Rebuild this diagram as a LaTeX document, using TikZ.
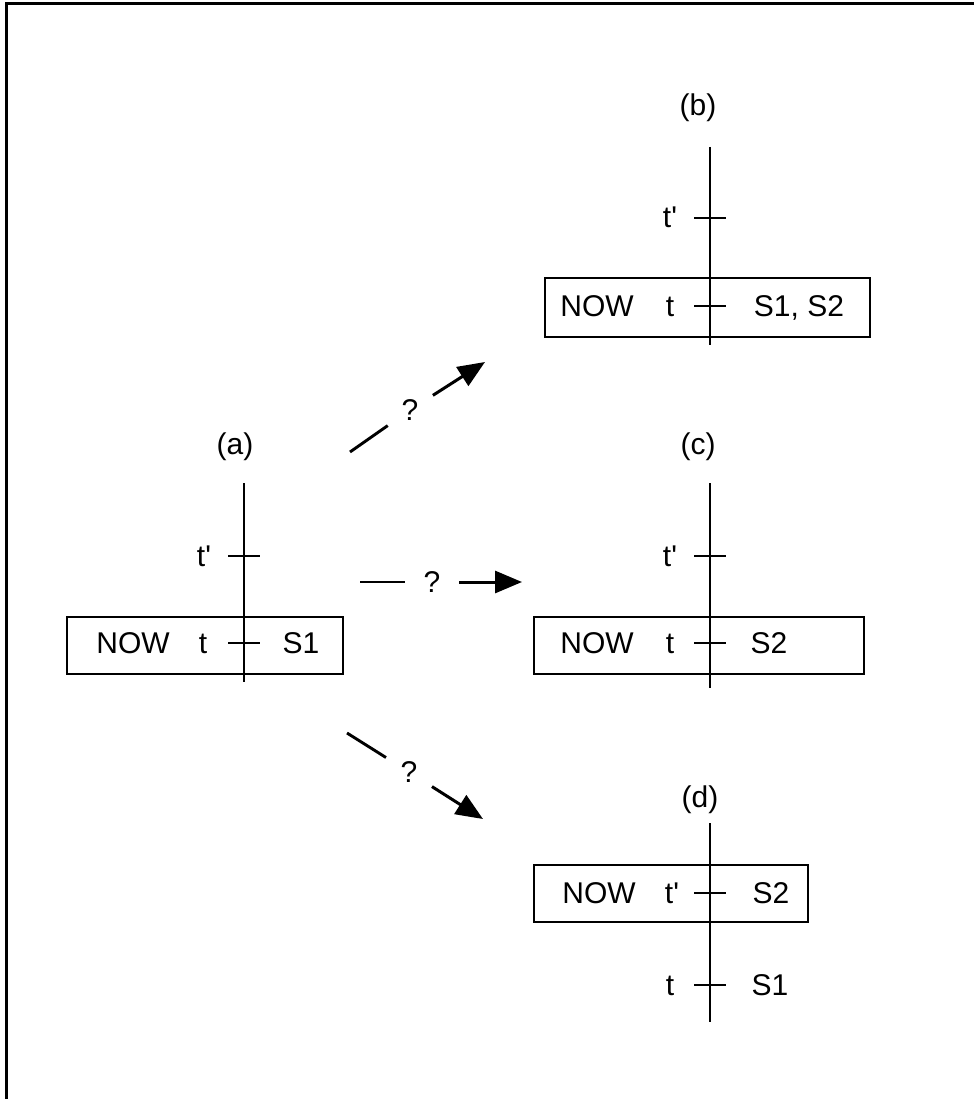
\documentclass[tikz,border=0pt]{standalone}
\usepackage{fontspec}
\setmainfont{Liberation Sans}
\usetikzlibrary{arrows.meta}
\newcommand{\tp}{t\textquotesingle}
\begin{document}
\begin{tikzpicture}[x=1pt,y=-1pt,
  ln/.style={line width=2.9pt},
  boxst/.style={draw,line width=2.7pt,inner sep=0pt,minimum height=57pt},
  txt/.style={inner sep=0pt,anchor=base,font=\fontsize{30}{35}\selectfont},
  lbl/.style={inner sep=0pt,anchor=center,font=\fontsize{30}{35}\selectfont},
  gap/.style={circle,inner sep=0pt,minimum size=54pt,font=\fontsize{30}{35}\selectfont},
  arr/.style={line width=3pt,-{Triangle[length=27pt,width=22pt]}}]
\useasboundingbox (0,0) rectangle (974,1099);
% frame
\draw[line width=3.2pt] (6.5,1099) -- (6.5,3.5) -- (974,3.5);

% ---------- (a)
\node[boxst,minimum width=276pt] (boxa) at (205,645.5) {};
\node[lbl] (la) at (235,447) {(a)};
\coordinate (atop) at (244,483);
\coordinate (abot) at (244,682);
\draw[ln] (atop) -- (abot);
\coordinate (ata) at (228,556); \coordinate (atb) at (260,556);
\draw[ln] (ata) -- (atb);
\node[txt] (atp) at (204,566) {\tp};
\coordinate (aua) at (228,643); \coordinate (aub) at (260,643);
\draw[ln] (aua) -- (aub);
\node[txt] (anow) at (133,653) {NOW};
\node[txt] (at) at (203,653) {t};
\node[txt] (as) at (301,653) {S1};

% ---------- (b)
\node[boxst,minimum width=325pt,minimum height=59pt] (boxb) at (707.5,307.5) {};
\node[lbl] (lb) at (698,108) {(b)};
\coordinate (btop) at (710,147);
\coordinate (bbot) at (710,345);
\draw[ln] (btop) -- (bbot);
\coordinate (bta) at (694,218); \coordinate (btb) at (726,218);
\draw[ln] (bta) -- (btb);
\node[txt] (btp) at (670,228) {\tp};
\coordinate (bua) at (694,306); \coordinate (bub) at (726,306);
\draw[ln] (bua) -- (bub);
\node[txt] (bnow) at (597,316) {NOW};
\node[txt] (bt) at (670,316) {t};
\node[txt] (bs) at (799,316) {S1, S2};

% ---------- (c)
\node[boxst,minimum width=330pt] (boxc) at (699,645.5) {};
\node[lbl] (lc) at (698,447) {(c)};
\coordinate (ctop) at (710,483);
\coordinate (cbot) at (710,688);
\draw[ln] (ctop) -- (cbot);
\coordinate (cta) at (694,556); \coordinate (ctb) at (726,556);
\draw[ln] (cta) -- (ctb);
\node[txt] (ctp) at (670,566) {\tp};
\coordinate (cua) at (694,643); \coordinate (cub) at (726,643);
\draw[ln] (cua) -- (cub);
\node[txt] (cnow) at (597,653) {NOW};
\node[txt] (ct) at (670,653) {t};
\node[txt] (cs) at (769,653) {S2};

% ---------- (d)
\node[boxst,minimum width=274pt] (boxd) at (671,893.5) {};
\node[lbl] (ld) at (700,800) {(d)};
\coordinate (dtop) at (710,823);
\coordinate (dbot) at (710,1022);
\draw[ln] (dtop) -- (dbot);
\coordinate (dua) at (694,893); \coordinate (dub) at (726,893);
\draw[ln] (dua) -- (dub);
\node[txt] (dnow) at (599,903) {NOW};
\node[txt] (dtp) at (672,903) {\tp};
\node[txt] (ds) at (771,903) {S2};
\coordinate (dva) at (694,985); \coordinate (dvb) at (726,985);
\draw[ln] (dva) -- (dvb);
\node[txt] (dt) at (670,995) {t};
\node[txt] (ds1) at (770,995) {S1};

% ---------- arrows
\coordinate (s1) at (350,452); \coordinate (e1) at (485,362);
\node[gap] (q1) at (410,410) {?};
\draw[ln] (s1) -- (q1);
\draw[arr] (q1) -- (e1);

\coordinate (s2) at (360,582); \coordinate (e2) at (522,582);
\node[gap] (q2) at (432,582) {?};
\draw[ln] (s2) -- (q2);
\draw[arr] (q2) -- (e2);

\coordinate (s3) at (347,733); \coordinate (e3) at (483,819);
\node[gap] (q3) at (409,772) {?};
\draw[ln] (s3) -- (q3);
\draw[arr] (q3) -- (e3);
\end{tikzpicture}
\end{document}
